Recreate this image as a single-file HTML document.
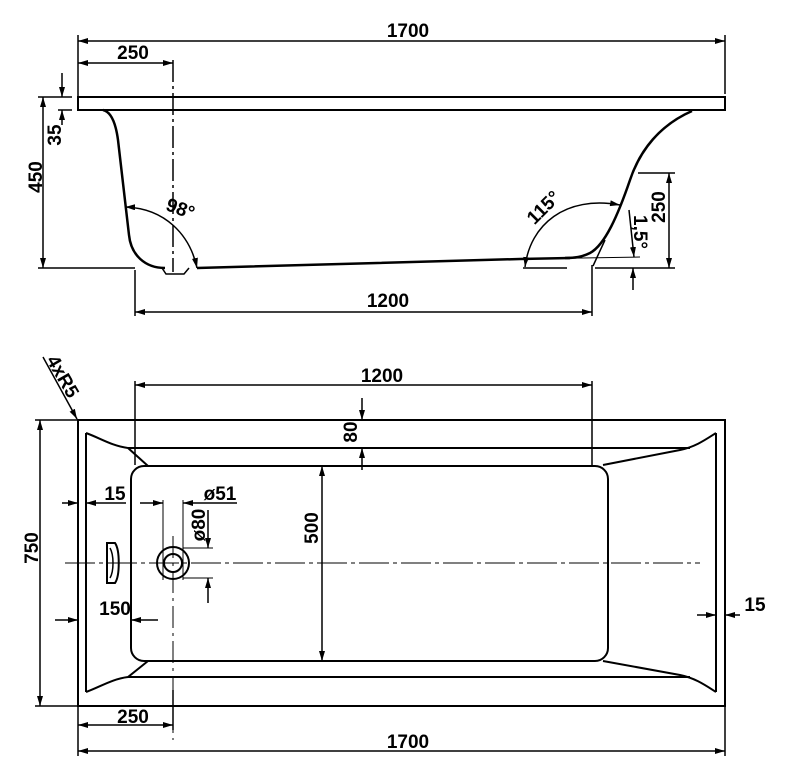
<!DOCTYPE html>
<html><head><meta charset="utf-8"><style>
html,body{margin:0;padding:0;background:#fff}
svg{display:block}
text{font-family:"Liberation Sans",Arial,sans-serif;font-weight:bold;font-size:19px;fill:#000}
</style></head><body>
<svg width="785" height="777" viewBox="0 0 785 777" xmlns="http://www.w3.org/2000/svg">
<defs>
<marker id="a" viewBox="0 0 10 6" refX="10" refY="3" markerWidth="10" markerHeight="6" orient="auto-start-reverse" markerUnits="userSpaceOnUse"><path d="M0,0 L10,3 L0,6 Z" fill="#000"/></marker>
</defs>
<g fill="none" stroke="#000" stroke-width="1.5">
<line x1="78" y1="41" x2="725" y2="41" marker-start="url(#a)" marker-end="url(#a)"/>
<line x1="78" y1="35" x2="78" y2="97"/>
<line x1="725" y1="35" x2="725" y2="94"/>
<line x1="78" y1="63" x2="173" y2="63" marker-start="url(#a)" marker-end="url(#a)"/>
<rect x="78" y="97" width="647" height="13" stroke-width="2"/>
<line x1="173" y1="60" x2="173" y2="272" stroke-dasharray="22,4,3,4"/>
<path d="M103,110 C112,112 116,125 118,140 L129,235 C131,255 145,268 165,268" stroke-width="2.5"/>
<path d="M162,268 L166,274 L184,274 L189,268" stroke-width="1.5"/>
<path d="M197,268 L520,259 L570,258" stroke-width="2.5"/>
<path d="M692,111 C660,125 640,150 630,180 C618,215 605,245 590,253 C582,257 575,258 565,258" stroke-width="2.5"/>
<line x1="605" y1="240" x2="593" y2="266"/>
<line x1="520" y1="259" x2="640" y2="257" stroke-width="1"/>
<path d="M125,207 C165,208 190,235 197,268" marker-start="url(#a)" marker-end="url(#a)"/>
<path d="M525,267 C530,225 565,195 620,205" marker-start="url(#a)" marker-end="url(#a)"/>
<line x1="38" y1="97" x2="72" y2="97"/>
<line x1="38" y1="268" x2="135" y2="268"/>
<line x1="43" y1="97" x2="43" y2="268" marker-start="url(#a)" marker-end="url(#a)"/>
<line x1="58" y1="110" x2="72" y2="110"/>
<line x1="62" y1="73" x2="62" y2="97" marker-end="url(#a)"/>
<line x1="62" y1="125" x2="62" y2="110" marker-end="url(#a)"/>
<line x1="135" y1="270" x2="135" y2="316"/>
<line x1="592" y1="265" x2="592" y2="316"/>
<line x1="135" y1="312" x2="592" y2="312" marker-start="url(#a)" marker-end="url(#a)"/>
<line x1="638" y1="173" x2="675" y2="173"/>
<line x1="595" y1="268" x2="675" y2="268"/>
<line x1="523" y1="268" x2="567" y2="268"/>
<line x1="669" y1="173" x2="669" y2="268" marker-start="url(#a)" marker-end="url(#a)"/>
<line x1="629" y1="210" x2="634" y2="257" marker-end="url(#a)"/>
<line x1="633" y1="290" x2="633" y2="268" marker-end="url(#a)"/>

<rect x="78" y="420" width="647" height="286" stroke-width="2"/>
<line x1="86" y1="433" x2="86" y2="692" stroke-width="2"/>
<line x1="716" y1="433" x2="716" y2="692" stroke-width="2"/>
<path d="M86,433 C100,438 112,446 128,448 L148,466" stroke-width="2"/>
<path d="M86,692 C100,687 112,679 128,677 L148,661" stroke-width="2"/>
<path d="M716,433 C705,440 695,447 680,450 L603,465" stroke-width="2"/>
<path d="M716,692 C705,685 695,678 680,675 L603,661" stroke-width="2"/>
<line x1="128" y1="448" x2="690" y2="448" stroke-width="2"/>
<line x1="128" y1="677" x2="690" y2="677" stroke-width="2"/>
<rect x="131" y="466" width="477" height="195" rx="13" stroke-width="2"/>
<line x1="65" y1="563" x2="700" y2="563" stroke-width="1" stroke-dasharray="30,4,4,4"/>
<line x1="173" y1="536" x2="173" y2="740" stroke-width="1" stroke-dasharray="22,5,3,5"/>
<circle cx="173" cy="563" r="16" stroke-width="2"/>
<circle cx="173" cy="563" r="9" stroke-width="2"/>
<path d="M107,543 L115,543 C120,550 120,576 115,583 L107,583 Z" stroke-width="2"/>
<path d="M110,548 C114,555 114,571 110,578" stroke-width="1.5"/>
<line x1="135" y1="381" x2="135" y2="465"/>
<line x1="592" y1="381" x2="592" y2="465"/>
<line x1="135" y1="385" x2="592" y2="385" marker-start="url(#a)" marker-end="url(#a)"/>
<line x1="362" y1="398" x2="362" y2="420" marker-end="url(#a)"/>
<line x1="362" y1="470" x2="362" y2="448" marker-end="url(#a)"/>
<line x1="322" y1="466" x2="322" y2="661" marker-start="url(#a)" marker-end="url(#a)"/>
<line x1="35" y1="420" x2="78" y2="420"/>
<line x1="35" y1="706" x2="78" y2="706"/>
<line x1="40" y1="420" x2="40" y2="706" marker-start="url(#a)" marker-end="url(#a)"/>
<line x1="43" y1="357" x2="77" y2="419" marker-end="url(#a)"/>
<line x1="62" y1="503" x2="78" y2="503" marker-end="url(#a)"/>
<line x1="126" y1="503" x2="86" y2="503" marker-end="url(#a)"/>
<line x1="140" y1="503" x2="163" y2="503" marker-end="url(#a)"/>
<line x1="237" y1="503" x2="183" y2="503" marker-end="url(#a)"/>
<line x1="163" y1="500" x2="163" y2="580" stroke-width="1"/>
<line x1="183" y1="500" x2="183" y2="580" stroke-width="1"/>
<line x1="183" y1="548" x2="213" y2="548" stroke-width="1"/>
<line x1="183" y1="578" x2="213" y2="578" stroke-width="1"/>
<line x1="208" y1="510" x2="208" y2="548" marker-end="url(#a)"/>
<line x1="208" y1="603" x2="208" y2="578" marker-end="url(#a)"/>
<line x1="55" y1="620" x2="78" y2="620" marker-end="url(#a)"/>
<line x1="158" y1="620" x2="131" y2="620" marker-end="url(#a)"/>
<line x1="697" y1="615" x2="716" y2="615" marker-end="url(#a)"/>
<line x1="740" y1="615" x2="725" y2="615" marker-end="url(#a)"/>
<line x1="173" y1="690" x2="173" y2="730"/>
<line x1="78" y1="706" x2="78" y2="756"/>
<line x1="725" y1="706" x2="725" y2="756"/>
<line x1="78" y1="725" x2="173" y2="725" marker-start="url(#a)" marker-end="url(#a)"/>
<line x1="78" y1="751" x2="725" y2="751" marker-start="url(#a)" marker-end="url(#a)"/>
</g>
<text x="408" y="37" text-anchor="middle">1700</text>
<text x="133" y="59" text-anchor="middle">250</text>
<text transform="translate(42,177) rotate(-90)" text-anchor="middle">450</text>
<text transform="translate(61,135) rotate(-90)" text-anchor="middle">35</text>
<text x="180" y="215" font-size="17" text-anchor="middle" transform="rotate(20,180,210)">98°</text>
<text transform="translate(548,212) rotate(-45)" text-anchor="middle" font-size="13">115°</text>
<text x="388" y="307" text-anchor="middle">1200</text>
<text transform="translate(665,207) rotate(-90)" text-anchor="middle">250</text>
<text transform="translate(634,232) rotate(90)" text-anchor="middle" font-size="16">1,5°</text>
<text transform="translate(46,360) rotate(60)" text-anchor="start" font-size="17">4xR5</text>
<text x="382" y="382" text-anchor="middle">1200</text>
<text transform="translate(357,432) rotate(-90)" text-anchor="middle">80</text>
<text transform="translate(318,528) rotate(-90)" text-anchor="middle">500</text>
<text transform="translate(38,548) rotate(-90)" text-anchor="middle">750</text>
<text x="115" y="500" text-anchor="middle">15</text>
<text x="220" y="500" text-anchor="middle">ø51</text>
<text transform="translate(205,525) rotate(-90)" text-anchor="middle">ø80</text>
<text x="115" y="615" text-anchor="middle">150</text>
<text x="755" y="611" text-anchor="middle">15</text>
<text x="133" y="723" text-anchor="middle">250</text>
<text x="408" y="748" text-anchor="middle">1700</text>
</svg>
</body></html>
